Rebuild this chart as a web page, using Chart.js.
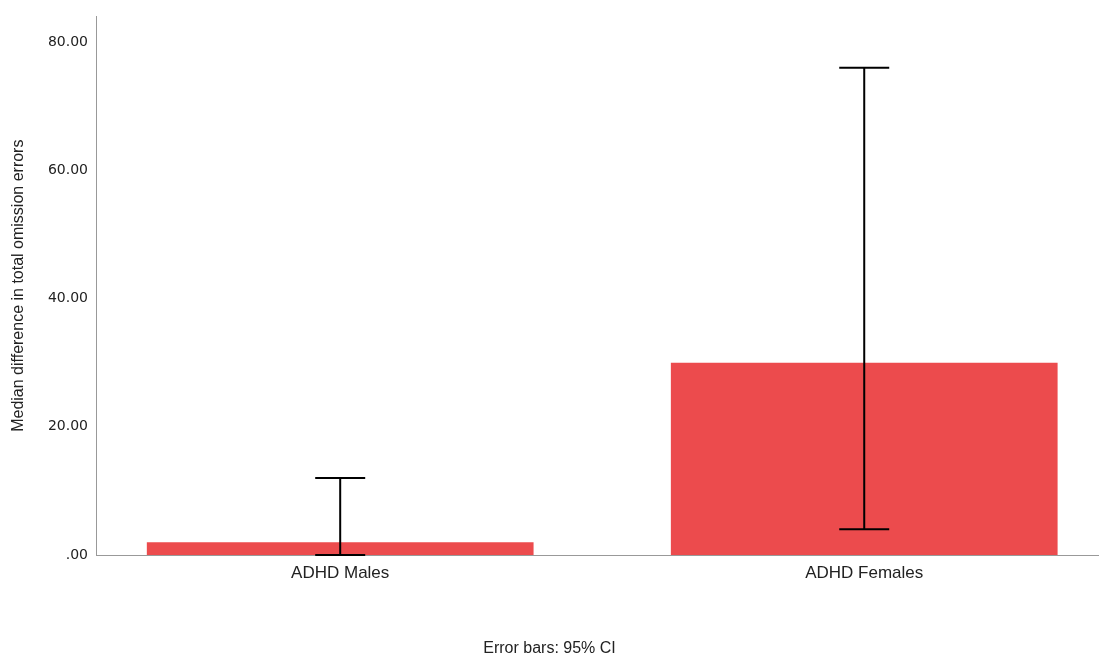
<!DOCTYPE html>
<html>
<head>
<meta charset="utf-8">
<script src="https://cdn.jsdelivr.net/npm/chart.js@4"></script>
<style>
  html, body { margin: 0; padding: 0; background: #fff; }
  #wrap { width: 1099px; height: 657px; position: relative; }
</style>
</head>
<body>
<div id="wrap"><canvas id="omissionChart"></canvas></div>
<script>
const categories = ['ADHD Males', 'ADHD Females'];
const medianDiff = [2, 30];
const ciLow = [0, 4];
const ciHigh = [12, 76];
const yTicks = [0, 20, 40, 60, 80];

// error bars drawn on top of the bars
const errorBars = {
  id: 'errorBars',
  afterDatasetsDraw(chart) {
    const { ctx, scales } = chart;
    ctx.save();
    ctx.strokeStyle = '#000';
    ctx.lineWidth = 2;
    categories.forEach((c, i) => {
      const x = scales.x.getPixelForValue(i + 1);
      const lo = scales.y.getPixelForValue(ciLow[i]);
      const hi = scales.y.getPixelForValue(ciHigh[i]);
      ctx.beginPath();
      ctx.moveTo(x, lo); ctx.lineTo(x, hi);
      ctx.moveTo(x - 25, lo); ctx.lineTo(x + 25, lo);
      ctx.moveTo(x - 25, hi); ctx.lineTo(x + 25, hi);
      ctx.stroke();
    });
    ctx.restore();
  }
};

const ctx = document.getElementById('omissionChart').getContext('2d');
const chart = new Chart(ctx, {
  type: 'bar',
  data: {
    datasets: [
      {
        label: 'Median difference',
        data: categories.map((c, i) => ({ x: i + 1, y: medianDiff[i] })),
        backgroundColor: 'rgb(236, 75, 77)',
        borderWidth: 0,
        categoryPercentage: 1,
        barPercentage: 0.738
      }
    ]
  },
  options: {
    responsive: true,
    maintainAspectRatio: false,
    animation: false,
    layout: { padding: { top: 12, left: 0, right: 0, bottom: 0 } },
    plugins: {
      legend: { display: false },
      tooltip: { enabled: false },
      title: {
        display: true,
        position: 'bottom',
        text: 'Error bars: 95% CI',
        color: '#222',
        font: { family: 'Liberation Sans, Arial, sans-serif', size: 16, weight: 'normal', lineHeight: 1 },
        padding: { top: 0, bottom: 0 }
      }
    },
    scales: {
      x: {
        type: 'linear',
        offset: false,
        min: 0.534,
        max: 2.448,
        grid: { display: false, drawTicks: false, offset: false },
        border: { color: '#999', width: 1 },
        afterBuildTicks: axis => {
          axis.ticks = categories.map((c, i) => ({ value: i + 1 }));
        },
        afterFit: axis => { axis.height = 86; },
        ticks: {
          padding: 8,
          color: '#222',
          font: { family: 'Liberation Sans, Arial, sans-serif', size: 17 },
          callback: v => categories[v - 1]
        }
      },
      y: {
        min: 0,
        max: 84,
        grid: { display: false, drawTicks: false },
        border: { color: '#999', width: 1 },
        afterBuildTicks: axis => {
          axis.ticks = yTicks.map(v => ({ value: v }));
        },
        afterFit: axis => { axis.width = 96; },
        title: {
          display: true,
          text: 'Median difference in total omission errors',
          color: '#222',
          font: { family: 'Liberation Sans, Arial, sans-serif', size: 16 },
          padding: { top: 9, bottom: 0 }
        },
        ticks: {
          padding: 8,
          color: '#222',
          font: { family: 'DejaVu Sans, Verdana, sans-serif', size: 14 },
          callback: v => (v === 0 ? '.00' : v.toFixed(2))
        }
      }
    }
  },
  plugins: [errorBars]
});
</script>
</body>
</html>
